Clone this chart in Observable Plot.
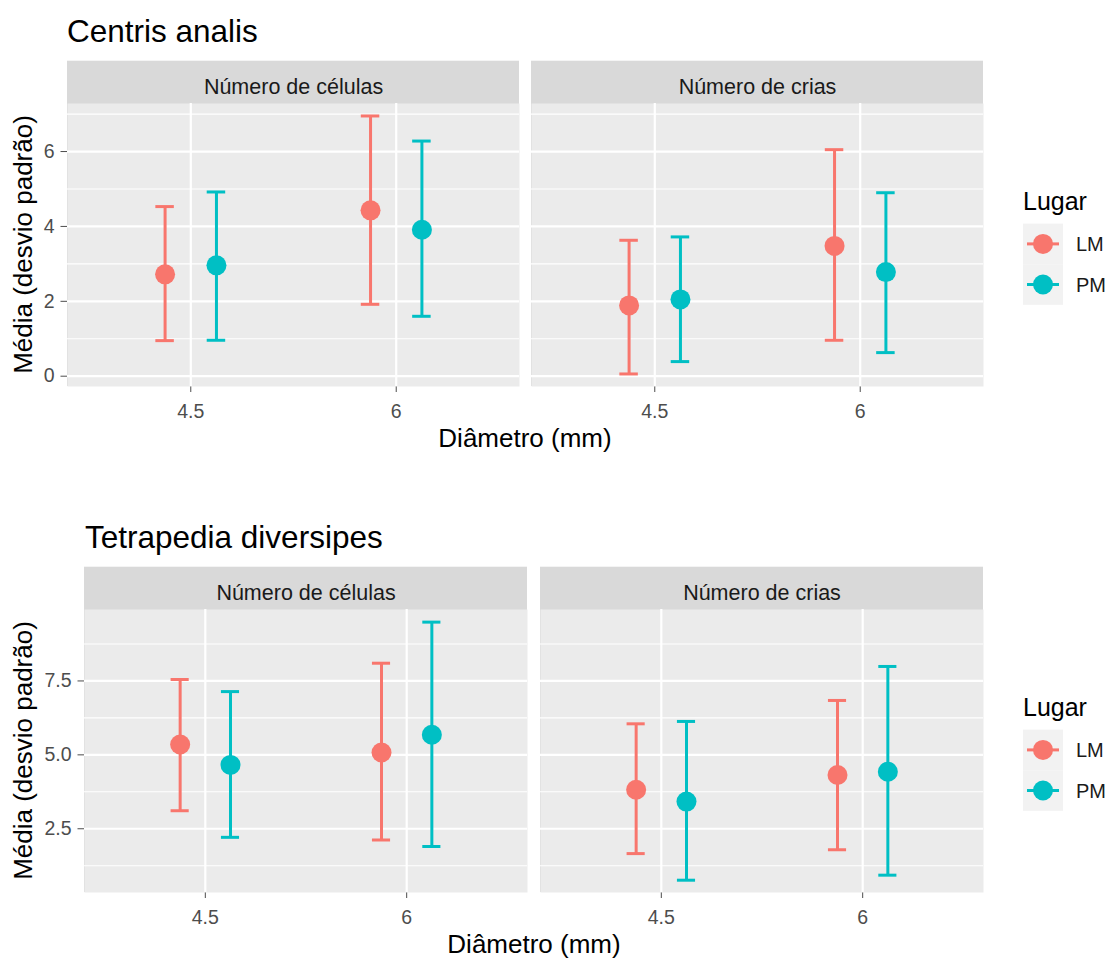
<!DOCTYPE html>
<html>
<head>
<meta charset="utf-8">
<script src="https://cdn.jsdelivr.net/npm/d3@7"></script>
<script src="https://cdn.jsdelivr.net/npm/@observablehq/plot@0.6"></script>
<style>
  body { margin: 0; background: #ffffff; font-family: "Liberation Sans", Arial, sans-serif; }
  #root { position: relative; width: 1108px; height: 958px; overflow: hidden; background: #fff; }
  #root > svg { position: absolute; left: 0; }
</style>
</head>
<body>
<div id="root"></div>
<script>
// ---------------- data ----------------
const measures = ["Número de células", "Número de crias"];
const diameters = ["4.5", "6"];
const places = ["LM", "PM"];
const placeColors = ["#F8766D", "#00BFC4"];

// order of values: measure -> diameter -> place
const centrisMean  = [2.72, 2.96, 4.43, 3.91, 1.89, 2.05, 3.48, 2.78];
const centrisLower = [0.95, 0.96, 1.92, 1.60, 0.06, 0.39, 0.96, 0.63];
const centrisUpper = [4.53, 4.92, 6.95, 6.28, 3.63, 3.72, 6.05, 4.90];

const tetraMean  = [5.35, 4.66, 5.08, 5.68, 3.82, 3.42, 4.32, 4.43];
const tetraLower = [3.11, 2.21, 2.12, 1.90, 1.66, 0.76, 1.79, 0.93];
const tetraUpper = [7.55, 7.14, 8.10, 9.49, 6.05, 6.13, 6.84, 7.99];

const centrisTicks = [0, 2, 4, 6];
const centrisMinor = [1, 3, 5, 7];
const tetraTicks = [2.5, 5, 7.5];
const tetraMinor = [1.25, 3.75, 6.25, 8.75];

const titles = ["Centris analis", "Tetrapedia diversipes"];
const yTitle = "Média (desvio padrão)";
const xTitle = "Diâmetro (mm)";
const legendTitle = "Lugar";

// ---------------- helpers ----------------
const dodge = 0.125;
const capHalf = 0.045;
const FONT = "Liberation Sans, Arial, sans-serif";

function buildRows(mean, lower, upper) {
  const out = [];
  let i = 0;
  for (const m of measures) {
    diameters.forEach((d, di) => {
      places.forEach((p, pi) => {
        out.push({measure: m, diameter: d, place: p,
                  pos: di + 1 + (pi === 0 ? -dodge : dodge),
                  mean: mean[i], lower: lower[i], upper: upper[i]});
        i++;
      });
    });
  }
  return out;
}

function panelChart(cfg) {
  const rows = buildRows(cfg.mean, cfg.lower, cfg.upper);
  const strips = measures.map(m => ({measure: m}));
  return Plot.plot({
    width: 1108,
    height: cfg.height,
    marginTop: cfg.marginTop,
    marginBottom: cfg.marginBottom,
    marginLeft: cfg.marginLeft,
    marginRight: cfg.marginRight,
    style: {background: "transparent", fontFamily: FONT, fontSize: "19.5px", color: "#4D4D4D", overflow: "visible"},
    fx: {domain: measures, paddingInner: cfg.gap, paddingOuter: 0, axis: null, label: null},
    x: {domain: [0.4, 2.6], ticks: [1, 2], tickFormat: d => diameters[d - 1], tickSize: 6, tickPadding: 12, label: null},
    y: {domain: cfg.yDomain, ticks: cfg.ticks, tickFormat: cfg.tickFormat, tickSize: 6.5, tickPadding: 6.5, label: null},
    color: {domain: places, range: placeColors},
    marks: [
      Plot.rect(strips, {fx: "measure", fill: "#D9D9D9", insetTop: -42.3}),
      Plot.frame({fill: "#EBEBEB", stroke: "none"}),
      Plot.ruleY(cfg.minor, {stroke: "#FFFFFF", strokeWidth: 1.1}),
      Plot.ruleY(cfg.ticks, {stroke: "#FFFFFF", strokeWidth: 2.2}),
      Plot.ruleX([1, 2], {stroke: "#FFFFFF", strokeWidth: 2.2}),
      Plot.text(strips, {fx: "measure", text: "measure", frameAnchor: "top", lineAnchor: "middle", dy: -16.8, fill: "#1A1A1A", fontSize: 21.5}),
      Plot.ruleX(rows, {fx: "measure", x: "pos", y1: "lower", y2: "upper", stroke: "place", strokeWidth: 3}),
      Plot.ruleY(rows, {fx: "measure", x1: d => d.pos - capHalf, x2: d => d.pos + capHalf, y: "upper", stroke: "place", strokeWidth: 3}),
      Plot.ruleY(rows, {fx: "measure", x1: d => d.pos - capHalf, x2: d => d.pos + capHalf, y: "lower", stroke: "place", strokeWidth: 3}),
      Plot.dot(rows, {fx: "measure", x: "pos", y: "mean", fill: "place", r: 10})
    ]
  });
}

const root = document.getElementById("root");

const configs = [
  {top: 0, height: 470, marginTop: 103, marginBottom: 84, marginLeft: 66, marginRight: 124, gap: 0.0258,
   yDomain: [-0.275, 7.283], ticks: centrisTicks, minor: centrisMinor, tickFormat: d => String(d),
   mean: centrisMean, lower: centrisLower, upper: centrisUpper, title: titles[0]},
  {top: 470, height: 488, marginTop: 139, marginBottom: 66, marginLeft: 84, marginRight: 124, gap: 0.0285,
   yDomain: [0.344, 9.917], ticks: tetraTicks, minor: tetraMinor, tickFormat: d3.format(".1f"),
   mean: tetraMean, lower: tetraLower, upper: tetraUpper, title: titles[1]}
];

const charts = configs.map(cfg => {
  const c = panelChart(cfg);
  c.style.top = cfg.top + "px";
  root.appendChild(c);
  return c;
});

// ---------------- overlay text: titles, axis titles, legend ----------------
const overlay = d3.select(root).append("svg")
  .attr("width", 1108).attr("height", 958)
  .style("top", "0px").style("pointer-events", "none")
  .attr("font-family", FONT);

configs.forEach((cfg, k) => {
  const color = charts[k].scale("color");
  const panelTop = cfg.top + cfg.marginTop;
  const panelBottom = cfg.top + cfg.height - cfg.marginBottom;
  const pc = (panelTop + panelBottom) / 2;
  const left = cfg.marginLeft, right = 1108 - cfg.marginRight;

  overlay.append("text").text(cfg.title)
    .attr("x", left + 1).attr("y", panelTop - 60.8)
    .attr("font-size", 31.5).attr("fill", "#000");

  overlay.append("text").text(yTitle)
    .attr("transform", `translate(32.3,${pc}) rotate(-90)`)
    .attr("text-anchor", "middle").attr("font-size", 26).attr("fill", "#000");

  overlay.append("text").text(xTitle)
    .attr("x", (left + right) / 2).attr("y", panelBottom + 60.7)
    .attr("text-anchor", "middle").attr("font-size", 26).attr("fill", "#000");

  const g = overlay.append("g");
  g.append("text").text(legendTitle)
    .attr("x", 1023).attr("y", pc - 34.5)
    .attr("font-size", 25).attr("fill", "#000");
  places.forEach((p, i) => {
    const kc = pc - 0.6 + i * 40.6;
    g.append("rect").attr("x", 1023).attr("y", kc - 20.3).attr("width", 40).attr("height", 40.6).attr("fill", "#F2F2F2");
    g.append("line").attr("x1", 1027).attr("x2", 1059).attr("y1", kc).attr("y2", kc)
      .attr("stroke", color.apply(p)).attr("stroke-width", 3);
    g.append("circle").attr("cx", 1043).attr("cy", kc).attr("r", 10).attr("fill", color.apply(p));
    g.append("text").text(p).attr("x", 1076).attr("y", kc).attr("dy", "0.36em")
      .attr("font-size", 20).attr("fill", "#1A1A1A");
  });
});
</script>
</body>
</html>
